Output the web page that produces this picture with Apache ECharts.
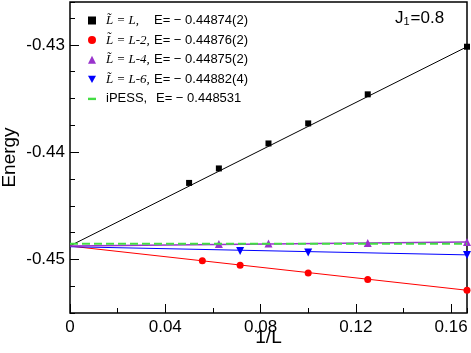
<!DOCTYPE html>
<html>
<head>
<meta charset="utf-8">
<script src="https://cdn.jsdelivr.net/npm/echarts@6/dist/echarts.min.js"></script>
<style>
  html, body { margin: 0; padding: 0; background: #fff; }
  #chart { width: 471px; height: 353px; }
</style>
</head>
<body>
<div id="chart"></div>
<script>
// 1/L 和能量数据
const xL0 = [0.05, 0.0625, 0.08333, 0.1, 0.125, 0.16667];
const yL0 = [-0.44287, -0.44152, -0.43919, -0.43732, -0.43461, -0.43017];
const xL2 = [0.05556, 0.07143, 0.1, 0.125, 0.16667];
const yL2 = [-0.45012, -0.45055, -0.45127, -0.45188, -0.45288];
const xL4 = [0.0625, 0.08333, 0.125, 0.16667];
const yL4 = [-0.44857, -0.44852, -0.44847, -0.44839];
const xL6 = [0.07143, 0.1, 0.16667];
const yL6 = [-0.44921, -0.44936, -0.44958];

// 拟合线 (1/L = 0 到 1/6)
const fitX = [0, 0.16667];
const fitL0 = [-0.44874, -0.43017];
const fitL2 = [-0.44876, -0.45288];
const fitL4 = [-0.44875, -0.44839];
const fitL6 = [-0.44882, -0.44958];
const ipess = [-0.448531, -0.448531];

const xTicks = [0, 0.04, 0.08, 0.12, 0.16];
const yTicks = [-0.45, -0.44, -0.43];

const legendText = {
    L0: ['L\u0303 = L,', 'E= \u2212 0.44874(2)'],
    L2: ['L\u0303 = L-2,', 'E= \u2212 0.44876(2)'],
    L4: ['L\u0303 = L-4,', 'E= \u2212 0.44875(2)'],
    L6: ['L\u0303 = L-6,', 'E= \u2212 0.44882(4)'],
    iPESS: ['iPESS,', 'E= \u2212 0.448531'],
};

function pairs(xs, ys) {
    return xs.map((x, i) => [x, ys[i]]);
}

const myChart = echarts.init(document.getElementById('chart'));

const axisFont = { fontFamily: 'Liberation Sans', color: '#000' };

const options = {
    backgroundColor: '#fff',
    animation: false,
    grid: {
        left: 70,
        right: 4,
        top: 2,
        bottom: 40,
        containLabel: false,
        outerBoundsMode: 'none',
        show: true,
        borderColor: '#000',
        borderWidth: 1.5,
    },
    legend: {
        orient: 'vertical',
        left: 88,
        top: 13.5,
        padding: 0,
        itemWidth: 8,
        itemHeight: 8,
        itemGap: 5.6,
        data: [
            { name: 'L0' },
            { name: 'L2' },
            { name: 'L4' },
            { name: 'L6', icon: 'path://M0,0L10,0L5,9Z' },
            { name: 'iPESS', icon: 'path://M0,0L10,0L10,3L0,3Z' },
        ],
        formatter: function (name) {
            const t = legendText[name];
            const first = name === 'iPESS' ? 's' : 'a';
            return '{' + first + '|' + t[0] + '}{b|' + t[1] + '}';
        },
        textStyle: {
            lineHeight: 14,
            rich: {
                a: {
                    fontFamily: 'Liberation Serif',
                    fontStyle: 'italic',
                    fontSize: 13,
                    width: 48,
                    padding: [0, 0, 0, 5],
                    color: '#000',
                },
                s: {
                    fontFamily: 'Liberation Sans',
                    fontSize: 13,
                    width: 50,
                    padding: [0, 0, 0, 5],
                    color: '#000',
                },
                b: {
                    fontFamily: 'Liberation Sans',
                    fontSize: 13,
                    color: '#000',
                },
            },
        },
    },
    graphic: [
        {
            type: 'text',
            left: 395,
            top: 10,
            style: {
                text: '{a|J}{s|1}{a|=0.8}',
                rich: {
                    a: { fontFamily: 'Liberation Sans', fontSize: 17, lineHeight: 20, verticalAlign: 'bottom', fill: '#000' },
                    s: { fontFamily: 'Liberation Sans', fontSize: 11, lineHeight: 14, verticalAlign: 'bottom', padding: [0, 1, 0, 0], fill: '#000' },
                },
            },
        },
    ],
    xAxis: [
        {
            type: 'value',
            min: 0,
            max: 0.16667,
            position: 'bottom',
            name: '1/L',
            nameLocation: 'middle',
            nameGap: 15,
            nameMoveOverlap: false,
            nameTextStyle: { ...axisFont, fontSize: 19 },
            splitLine: { show: false },
            axisLine: { show: false },
            axisTick: { inside: true, length: 9, customValues: xTicks, lineStyle: { color: '#000' } },
            axisLabel: { ...axisFont, fontSize: 17, margin: 6, customValues: xTicks },
        },
        {
            // 次刻度
            type: 'value',
            min: 0,
            max: 0.16667,
            interval: 0.02,
            position: 'bottom',
            splitLine: { show: false },
            axisLine: { show: false },
            axisTick: { inside: true, length: 5, lineStyle: { color: '#000' } },
            axisLabel: { show: false },
        },
    ],
    yAxis: [
        {
            type: 'value',
            min: -0.455,
            max: -0.426,
            position: 'left',
            name: 'Energy',
            nameLocation: 'middle',
            nameGap: 51,
            nameMoveOverlap: false,
            nameTextStyle: { ...axisFont, fontSize: 19 },
            splitLine: { show: false },
            axisLine: { show: false },
            axisTick: { inside: true, length: 9, customValues: yTicks, lineStyle: { color: '#000' } },
            axisLabel: { ...axisFont, fontSize: 17, margin: 5, customValues: yTicks },
        },
        {
            type: 'value',
            min: -0.455,
            max: -0.426,
            interval: 0.0025,
            position: 'left',
            splitLine: { show: false },
            axisLine: { show: false },
            axisTick: { inside: true, length: 5, lineStyle: { color: '#000' } },
            axisLabel: { show: false },
        },
    ],
    series: [
        {
            type: 'line', data: pairs(fitX, fitL0), symbol: 'none', silent: true,
            lineStyle: { color: '#000', width: 1 },
        },
        {
            type: 'line', data: pairs(fitX, fitL2), symbol: 'none', silent: true,
            lineStyle: { color: '#ff0000', width: 1 },
        },
        {
            type: 'line', data: pairs(fitX, fitL6), symbol: 'none', silent: true,
            lineStyle: { color: '#0000ff', width: 1 },
        },
        {
            type: 'line', data: pairs(fitX, fitL4), symbol: 'none', silent: true,
            lineStyle: { color: '#9933cc', width: 1.5 },
        },
        {
            name: 'iPESS', type: 'line', data: pairs(fitX, ipess), symbol: 'none',
            itemStyle: { color: '#44dd44' },
            lineStyle: { color: '#44dd44', width: 2, type: [8, 4] },
        },
        {
            name: 'L0', type: 'scatter', data: pairs(xL0, yL0), symbol: 'rect', symbolSize: 6,
            itemStyle: { color: '#000', opacity: 1 },
        },
        {
            name: 'L2', type: 'scatter', data: pairs(xL2, yL2), symbol: 'circle', symbolSize: 7,
            itemStyle: { color: '#ff0000', opacity: 1 },
        },
        {
            name: 'L4', type: 'scatter', data: pairs(xL4, yL4), symbol: 'triangle', symbolSize: 8,
            itemStyle: { color: '#9933cc', opacity: 1 },
        },
        {
            name: 'L6', type: 'scatter', data: pairs(xL6, yL6), symbol: 'triangle', symbolRotate: 180, symbolSize: 8,
            itemStyle: { color: '#0000ff', opacity: 1 },
        },
    ],
};

myChart.setOption(options);
</script>
</body>
</html>
